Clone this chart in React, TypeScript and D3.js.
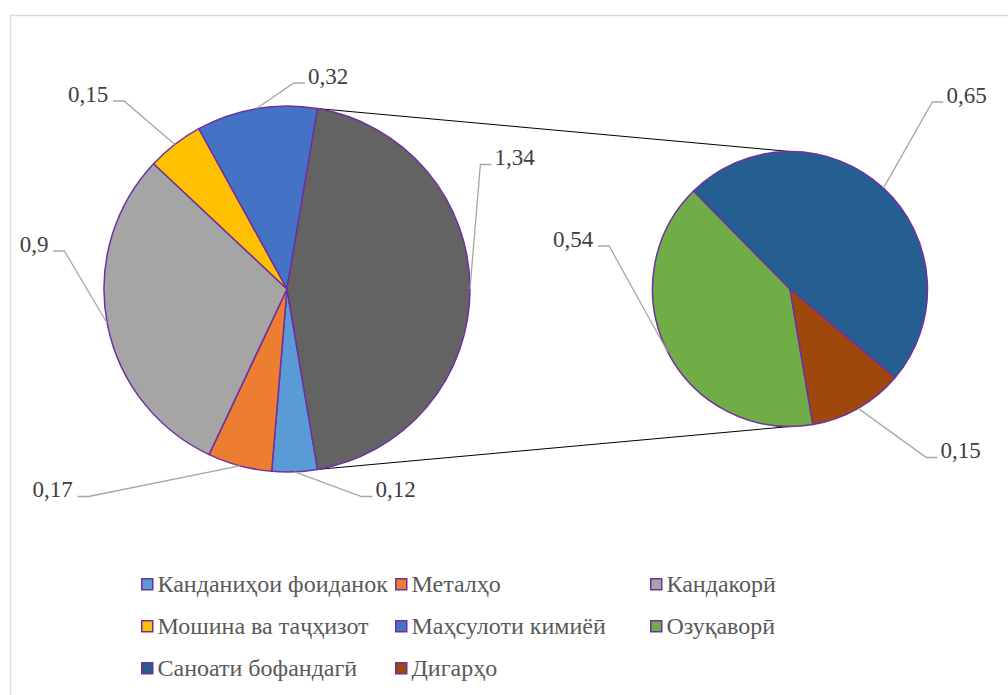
import React from 'react';
import * as d3 from 'd3';

// ---------- data ----------
const categories = [
  'Канданиҳои фоиданок',
  'Металҳо',
  'Кандакорӣ',
  'Мошина ва таҷҳизот',
  'Маҳсулоти кимиёӣ',
  'Озуқаворӣ',
  'Саноати бофандагӣ',
  'Дигарҳо',
];
const values = [0.12, 0.17, 0.9, 0.15, 0.32, 0.54, 0.65, 0.15];
const colors = ['#5B9BD5', '#ED7D31', '#A5A5A5', '#FFC000', '#4472C4', '#70AD47', '#255E91', '#9E480E'];
const otherColor = '#636363';
const mainIndices = [0, 1, 2, 3, 4];
const secondaryIndices = [5, 6, 7];

// ---------- layout ----------
const W = 1008;
const H = 695;
const LABEL_FS = 23;
const LEGEND_FS = 24;
const main = { cx: 287, cy: 289, r: 183 };
const sec = { cx: 790, cy: 289, r: 137.5 };
// label text centre x, baseline y (manually placed in the original)
const mainLabelPos = [
  [395.5, 497],
  [52.5, 497],
  [34, 251.5],
  [88, 101.5],
  [328, 83.5],
  [514.5, 165],
];
const secLabelPos = [
  [573, 246.5],
  [966.5, 102.5],
  [960.5, 458],
];
const legendColX = [141, 395, 650];
const legendRowY = [578, 620, 662];

const fmt = (v: number) => String(+v.toFixed(2)).replace('.', ',');

type Slice = { value: number; color: string; label: string };
type Geom = { cx: number; cy: number; r: number };

function layoutPie(slices: Slice[], geom: Geom, labelPos: number[][], startAngle: number) {
  const pie = d3
    .pie<Slice>()
    .sort(null)
    .value((d) => d.value)
    .startAngle(startAngle)
    .endAngle(startAngle + 2 * Math.PI);
  const arc = d3.arc<d3.PieArcDatum<Slice>>().innerRadius(0).outerRadius(geom.r);
  return pie(slices).map((a, i) => {
    const mid = (a.startAngle + a.endAngle) / 2;
    const sx = geom.cx + Math.sin(mid) * geom.r;
    const sy = geom.cy - Math.cos(mid) * geom.r;
    const [lx, by] = labelPos[i];
    const text = a.data.label;
    const nDigits = text.replace(',', '').length;
    const w = LABEL_FS * (0.5 * nDigits + 0.25) - 2;
    const ly = by - 0.5;
    let hStart: number;
    let hEnd: number;
    if (lx > sx) {
      hEnd = lx - w / 2 - 4;
      hStart = hEnd - 11;
    } else {
      hEnd = lx + w / 2 + 6;
      hStart = hEnd + 11;
    }
    return {
      d: arc(a) || '',
      color: a.data.color,
      leader: `M${sx},${sy}L${hStart},${ly}L${hEnd},${ly}`,
      text,
      lx,
      by,
      geom,
    };
  });
}

export default function App() {
  const otherValue = d3.sum(secondaryIndices, (i) => values[i]);
  const mainSlices: Slice[] = [
    ...mainIndices.map((i) => ({ value: values[i], color: colors[i], label: fmt(values[i]) })),
    { value: otherValue, color: otherColor, label: fmt(otherValue) },
  ];
  const secSlices: Slice[] = secondaryIndices.map((i) => ({ value: values[i], color: colors[i], label: fmt(values[i]) }));
  const mainTotal = d3.sum(mainSlices, (d) => d.value);
  const otherFrac = otherValue / mainTotal;
  const startAngle = Math.PI / 2 + otherFrac * Math.PI;

  const aTop = startAngle - otherFrac * 2 * Math.PI;
  const topPt = [main.cx + Math.sin(aTop) * main.r, main.cy - Math.cos(aTop) * main.r];
  const botPt = [main.cx + Math.sin(startAngle) * main.r, main.cy - Math.cos(startAngle) * main.r];

  const items = [
    ...layoutPie(mainSlices, main, mainLabelPos, startAngle),
    ...layoutPie(secSlices, sec, secLabelPos, startAngle),
  ];

  return (
    <svg width={W} height={H} style={{ position: 'absolute', left: 0, top: 0 }}>
      <path d={`M10.5,${H}V15.5H${W}`} fill="none" stroke="#D9D9D9" strokeWidth={1.3} />
      <line x1={topPt[0]} y1={topPt[1]} x2={sec.cx} y2={sec.cy - sec.r} stroke="#000" strokeWidth={1} />
      <line x1={botPt[0]} y1={botPt[1]} x2={sec.cx} y2={sec.cy + sec.r} stroke="#000" strokeWidth={1} />
      {items.map((it, i) => (
        <path
          key={'s' + i}
          transform={`translate(${it.geom.cx},${it.geom.cy})`}
          d={it.d}
          fill={it.color}
          stroke="#7030A0"
          strokeWidth={1.5}
          strokeLinejoin="round"
        />
      ))}
      {items.map((it, i) => (
        <path key={'p' + i} d={it.leader} fill="none" stroke="#A6A6A6" strokeWidth={1.3} />
      ))}
      {items.map((it, i) => (
        <text
          key={'t' + i}
          x={it.lx}
          y={it.by}
          textAnchor="middle"
          fill="#404040"
          style={{ fontFamily: '"Liberation Serif"', fontSize: LABEL_FS }}
        >
          {it.text}
        </text>
      ))}
      {categories.map((c, i) => (
        <rect
          key={'r' + i}
          x={legendColX[i % 3] + 0.75}
          y={legendRowY[Math.floor(i / 3)] + 0.75}
          width={11}
          height={11}
          fill={colors[i]}
          stroke="#7030A0"
          strokeWidth={1.5}
        />
      ))}
      {categories.map((c, i) => (
        <text
          key={'c' + i}
          x={legendColX[i % 3] + 16.5}
          y={legendRowY[Math.floor(i / 3)] + 14}
          fill="#595959"
          style={{ fontFamily: '"Liberation Serif"', fontSize: LEGEND_FS }}
        >
          {c}
        </text>
      ))}
    </svg>
  );
}
